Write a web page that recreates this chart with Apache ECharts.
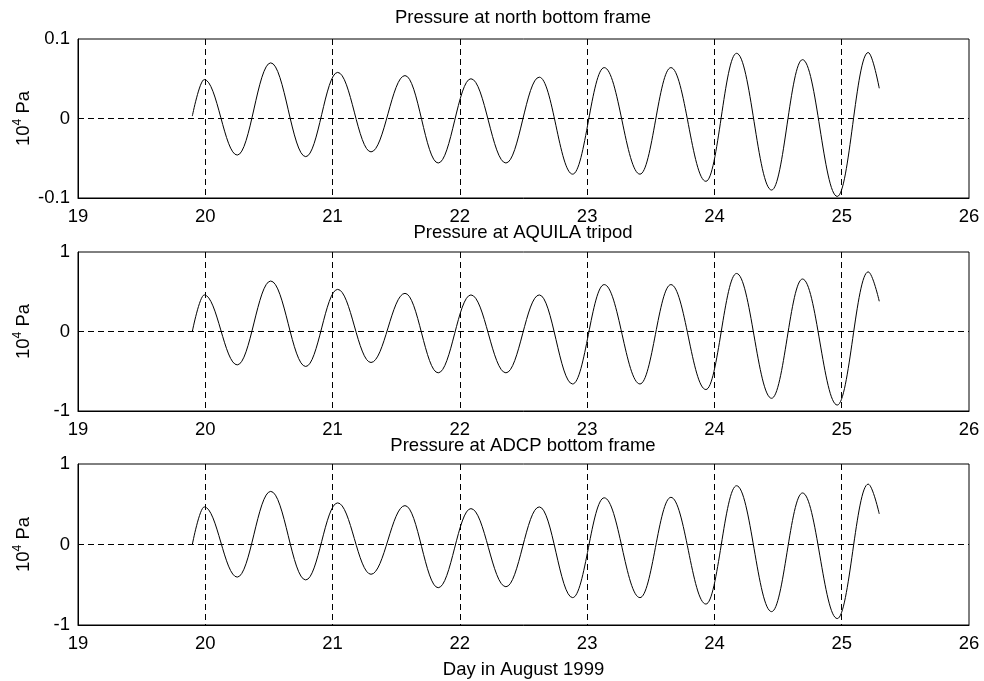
<!DOCTYPE html>
<html>
<head>
<meta charset="utf-8">
<script src="https://cdn.jsdelivr.net/npm/echarts@6/dist/echarts.min.js"></script>
<style>
html,body{margin:0;padding:0;background:#fff;}
#chart{width:984px;height:681px;}
</style>
</head>
<body>
<div id="chart"></div>
<script>
// Times (day in August 1999) of the start, each crest/trough, and the end
const days = [19.898, 19.992, 20.251, 20.514, 20.789, 21.040, 21.302, 21.569, 21.830, 22.087,
  22.362, 22.624, 22.886, 23.134, 23.415, 23.658, 23.933, 24.174, 24.449, 24.692,
  24.965, 25.208, 25.295];

const northValues = [0.003, 0.049, -0.046, 0.070, -0.048, 0.058, -0.042, 0.054, -0.056, 0.050,
  -0.056, 0.052, -0.070, 0.064, -0.070, 0.064, -0.079, 0.082, -0.090, 0.074,
  -0.098, 0.083, 0.038];

const aquilaValues = [0.0, 0.46, -0.42, 0.635, -0.44, 0.53, -0.39, 0.48, -0.52, 0.46,
  -0.52, 0.46, -0.66, 0.59, -0.66, 0.59, -0.73, 0.73, -0.84, 0.66,
  -0.925, 0.75, 0.38];

const adcpValues = [0.0, 0.467, -0.405, 0.66, -0.44, 0.517, -0.37, 0.483, -0.537, 0.446,
  -0.525, 0.467, -0.66, 0.58, -0.66, 0.586, -0.74, 0.73, -0.834, 0.64,
  -0.92, 0.75, 0.38];

const titles = ['Pressure at north bottom frame', 'Pressure at AQUILA tripod', 'Pressure at ADCP bottom frame'];
const yRanges = [[-0.1, 0.1, 0.1], [-1, 1, 1], [-1, 1, 1]];
const xRange = [19, 26, 1];
const xName = 'Day in August 1999';
const yName = '{b|10}{s|4}{b| Pa}';

const FONT = 'Liberation Sans, Arial, Helvetica, sans-serif';
const FS = 18.5;
const gridLayout = [{top: 39, height: 159}, {top: 252, height: 159}, {top: 464, height: 161}];
const titleTops = [8, 223, 436];

const seriesData = [northValues, aquilaValues, adcpValues].map(vals => days.map((d, i) => [d, vals[i]]));

const option = {
  animation: false,
  backgroundColor: '#fff',
  title: titles.map((t, i) => ({
    text: t, left: 523, top: titleTops[i], textAlign: 'center', padding: 0,
    textStyle: {fontFamily: FONT, fontSize: FS, fontWeight: 'normal', color: '#000'}
  })),
  grid: gridLayout.map(g => ({
    left: 78, right: 15, top: g.top, height: g.height,
    containLabel: false, outerBoundsMode: 'none',
    show: true, borderColor: '#000', borderWidth: 1, backgroundColor: '#fff'
  })),
  xAxis: gridLayout.map((g, i) => ({
    type: 'value', gridIndex: i, min: xRange[0], max: xRange[1], interval: xRange[2],
    name: i === 2 ? xName : '', nameLocation: 'middle', nameGap: 35, nameMoveOverlap: false,
    nameTextStyle: {fontFamily: FONT, fontSize: FS, color: '#000'},
    axisLine: {show: true, onZero: false, lineStyle: {color: '#000', width: 1}},
    axisTick: {show: false},
    axisLabel: {fontFamily: FONT, fontSize: FS, color: '#000', margin: 9},
    splitLine: {show: true, showMinLine: false, showMaxLine: false,
      lineStyle: {color: '#000', type: [6, 4], width: 1}}
  })),
  yAxis: yRanges.map((r, i) => ({
    type: 'value', gridIndex: i, min: r[0], max: r[1], interval: r[2],
    name: yName, nameLocation: 'middle', nameGap: 42, nameRotate: 90, nameMoveOverlap: false,
    nameTextStyle: {
      fontFamily: FONT, fontSize: FS, color: '#000',
      rich: {
        b: {fontFamily: FONT, fontSize: FS, color: '#000', lineHeight: 24, verticalAlign: 'middle'},
        s: {fontFamily: FONT, fontSize: 12, color: '#000', lineHeight: 14, verticalAlign: 'top'}
      }
    },
    axisLine: {show: true, onZero: false, lineStyle: {color: '#000', width: 1}},
    axisTick: {show: false},
    axisLabel: {fontFamily: FONT, fontSize: FS, color: '#000', margin: 8},
    splitLine: {show: true, showMinLine: false, showMaxLine: false,
      lineStyle: {color: '#000', type: [6, 4], width: 1}}
  })),
  series: seriesData.map((d, i) => ({
    type: 'line', xAxisIndex: i, yAxisIndex: i, data: d,
    showSymbol: false, smooth: 0.38, smoothMonotone: 'x',
    lineStyle: {color: '#000', width: 1},
    z: 5
  }))
};

const chart = echarts.init(document.getElementById('chart'), null, {renderer: 'canvas'});
chart.setOption(option);
</script>
</body>
</html>
